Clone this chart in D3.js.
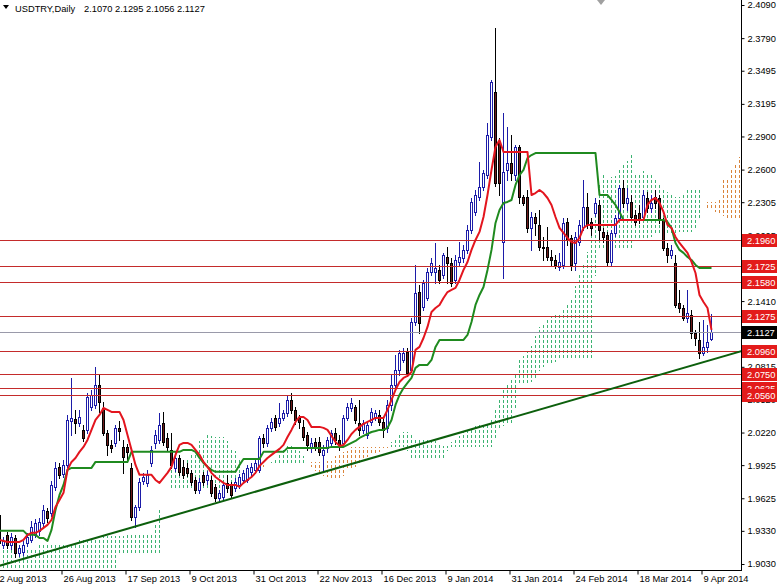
<!DOCTYPE html>
<html><head><meta charset="utf-8">
<script src="https://cdn.jsdelivr.net/npm/d3@7"></script>
<style>body{margin:0;background:#fff;}svg{display:block;}text{font-family:"Liberation Sans",Arial,sans-serif;}</style>
</head><body><svg id="c" width="777" height="586"></svg>
<script>
const symbolName = "USDTRY,Daily";
const lastQuote = ["2.1070","2.1295","2.1056","2.1127"];

const opens = [1.9475,1.9203,1.9294,1.9203,1.9266,1.9131,1.9140,1.9221,1.9248,1.9294,
1.9330,1.9402,1.9511,1.9493,1.9728,1.9909,1.9846,1.9927,2.0325,2.0343,
2.0307,2.0244,2.0244,2.0452,2.0470,2.0651,2.0443,2.0216,2.0108,2.0126,
2.0262,2.0090,2.0090,1.9900,1.9457,1.9547,1.9782,1.9764,1.9945,2.0126,
2.0153,2.0307,2.0171,2.0063,1.9900,1.9990,1.9909,1.9900,1.9855,1.9791,
1.9701,1.9837,1.9791,1.9791,1.9728,1.9628,1.9637,1.9764,1.9746,1.9719,
1.9746,1.9791,1.9791,1.9864,1.9882,1.9882,2.0171,2.0126,2.0262,2.0352,
2.0307,2.0352,2.0397,2.0515,2.0425,2.0352,2.0271,2.0198,2.0090,2.0135,
2.0135,2.0018,2.0081,2.0126,2.0216,2.0153,2.0126,2.0352,2.0443,2.0452,
2.0307,2.0244,2.0198,2.0316,2.0352,2.0379,2.0316,2.0262,2.0470,2.0651,
2.0787,2.0877,2.0949,2.0787,2.1221,2.1492,2.1357,2.1438,2.1673,2.1673,
2.1692,2.1646,2.1809,2.1755,2.1601,2.1764,2.1800,2.1873,2.2054,2.2216,
2.2352,2.2443,2.2551,2.2895,2.3303,2.2850,2.1945,2.2597,2.2660,2.2551,
2.2805,2.2352,2.2352,2.2072,2.2171,2.2099,2.1900,2.1900,2.1809,2.1782,
2.1719,2.1737,2.2126,2.1981,2.1755,2.1945,2.2081,2.2262,2.2126,2.2207,
2.2280,2.2036,2.2008,2.1764,2.2027,2.2162,2.2433,2.2298,2.2307,2.2189,
2.2207,2.2171,2.2343,2.2253,2.2352,2.2343,2.2144,2.1891,2.1827,2.1755,
2.1393,2.1348,2.1257,2.1284,2.1122,2.1058,2.0940,2.0995,2.1070];
const highs = [1.9502,1.9276,1.9321,1.9312,1.9294,1.9203,1.9239,1.9312,1.9420,1.9438,
1.9447,1.9565,1.9538,1.9782,1.9954,1.9945,1.9972,2.0379,2.0714,2.0425,
2.0425,2.0289,2.0579,2.0606,2.0814,2.0741,2.0497,2.0244,2.0153,2.0289,
2.0325,2.0153,2.0117,1.9945,1.9565,1.9809,1.9855,1.9882,2.0099,2.0244,
2.0397,2.0407,2.0216,2.0216,2.0045,2.0018,1.9972,1.9945,1.9882,1.9818,
1.9809,1.9864,1.9873,1.9828,1.9755,1.9701,1.9764,1.9837,1.9773,1.9809,
1.9846,1.9882,1.9927,1.9945,1.9972,2.0189,2.0207,2.0289,2.0352,2.0379,
2.0488,2.0425,2.0560,2.0579,2.0452,2.0379,2.0334,2.0225,2.0171,2.0171,
2.0180,2.0108,2.0180,2.0244,2.0262,2.0198,2.0379,2.0488,2.0533,2.0470,
2.0515,2.0334,2.0316,2.0443,2.0425,2.0425,2.0352,2.0515,2.0741,2.0922,
2.0968,2.0986,2.0986,2.1257,2.1737,2.1555,2.1601,2.1709,2.1800,2.1936,
2.1737,2.1845,2.1900,2.1800,2.1827,2.1945,2.1918,2.2099,2.2343,2.2416,
2.2669,2.2597,2.3022,2.3411,2.3882,2.2886,2.3113,2.2986,2.2913,2.2823,
2.2823,2.2370,2.2416,2.2217,2.2208,2.2235,2.1990,2.2081,2.1873,2.1827,
2.1845,2.2162,2.2162,2.2008,2.2036,2.2144,2.2506,2.2388,2.2162,2.2343,
2.2325,2.2072,2.2036,2.2054,2.2189,2.2461,2.2506,2.2433,2.2370,2.2235,
2.2280,2.2416,2.2397,2.2370,2.2416,2.2370,2.2162,2.1936,2.1918,2.1827,
2.1511,2.1375,2.1511,2.1330,2.1149,2.1221,2.1239,2.1194,2.1295];
const lows = [1.9194,1.9176,1.9176,1.9167,1.9094,1.9104,1.9113,1.9194,1.9230,1.9276,
1.9294,1.9375,1.9411,1.9466,1.9701,1.9809,1.9818,1.9909,2.0198,2.0216,
2.0279,2.0144,2.0216,2.0425,2.0443,2.0407,2.0198,2.0018,2.0045,2.0099,
2.0153,1.9855,1.9954,1.9429,1.9366,1.9520,1.9755,1.9737,1.9918,2.0081,
2.0126,2.0108,2.0063,1.9900,1.9873,1.9837,1.9809,1.9828,1.9746,1.9674,
1.9674,1.9746,1.9755,1.9646,1.9601,1.9592,1.9610,1.9683,1.9628,1.9692,
1.9719,1.9764,1.9773,1.9837,1.9855,1.9864,2.0090,2.0099,2.0235,2.0244,
2.0279,2.0334,2.0370,2.0397,2.0298,2.0262,2.0153,2.0063,2.0045,2.0063,
2.0018,1.9864,2.0045,2.0099,2.0117,2.0063,2.0099,2.0334,2.0416,2.0307,
2.0198,2.0216,2.0171,2.0289,2.0334,2.0289,2.0180,2.0226,2.0425,2.0623,
2.0741,2.0859,2.0732,2.0768,2.1194,2.1122,2.1330,2.1420,2.1646,2.1574,
2.1574,2.1619,2.1574,2.1546,2.1574,2.1737,2.1764,2.1845,2.2027,2.2189,
2.2325,2.2416,2.2524,2.2868,2.2452,2.2370,2.1619,2.2506,2.2506,2.2506,
2.2298,2.2280,2.2036,2.1873,2.2009,2.1873,2.1782,2.1782,2.1737,2.1709,
2.1692,2.1709,2.1918,2.1692,2.1692,2.1918,2.2054,2.2072,2.2009,2.2180,
2.1963,2.1945,2.1737,2.1737,2.1999,2.2144,2.2262,2.2235,2.2144,2.2099,
2.2117,2.2144,2.2216,2.2216,2.2253,2.2117,2.1873,2.1764,2.1800,2.1357,
2.1312,2.1239,2.1221,2.1076,2.1013,2.0895,2.0922,2.0949,2.1056];
const closes = [1.9221,1.9239,1.9203,1.9276,1.9131,1.9176,1.9203,1.9276,1.9366,1.9402,
1.9411,1.9520,1.9447,1.9746,1.9900,1.9837,1.9927,2.0334,2.0352,2.0307,
2.0361,2.0171,2.0542,2.0560,2.0651,2.0497,2.0216,2.0108,2.0081,2.0262,
2.0235,1.9999,2.0045,1.9457,1.9547,1.9773,1.9818,1.9837,2.0063,2.0198,
2.0289,2.0135,2.0090,1.9927,1.9990,1.9864,1.9837,1.9855,1.9773,1.9701,
1.9773,1.9773,1.9837,1.9674,1.9628,1.9674,1.9746,1.9719,1.9655,1.9773,
1.9818,1.9855,1.9900,1.9909,1.9945,2.0171,2.0126,2.0262,2.0316,2.0271,
2.0352,2.0397,2.0515,2.0425,2.0334,2.0316,2.0180,2.0108,2.0126,2.0090,
2.0045,2.0063,2.0153,2.0216,2.0153,2.0090,2.0352,2.0452,2.0488,2.0334,
2.0244,2.0307,2.0289,2.0406,2.0397,2.0316,2.0244,2.0470,2.0651,2.0787,
2.0940,2.0940,2.0759,2.1221,2.1483,2.1212,2.1574,2.1673,2.1755,2.1709,
2.1601,2.1827,2.1755,2.1574,2.1782,2.1809,2.1873,2.2054,2.2307,2.2370,
2.2443,2.2569,2.2913,2.3393,2.2479,2.2479,2.2578,2.2660,2.2569,2.2805,
2.2352,2.2298,2.2072,2.2171,2.2117,2.1900,2.1891,2.1809,2.1782,2.1737,
2.1764,2.2117,2.1963,2.1737,2.1990,2.2099,2.2262,2.2099,2.2072,2.2298,
2.2054,2.1990,2.1764,2.2027,2.2162,2.2433,2.2298,2.2343,2.2171,2.2126,
2.2144,2.2370,2.2253,2.2298,2.2298,2.2144,2.1891,2.1827,2.1873,2.1375,
2.1348,2.1257,2.1302,2.1122,2.1076,2.0940,2.0995,2.1040,2.1127];

const tenkan = [1.9248,1.9239,1.9230,1.9230,1.9230,1.9230,1.9248,1.9294,1.9312,1.9312,
1.9330,1.9357,1.9384,1.9429,1.9547,1.9610,1.9674,1.9882,1.9954,1.9990,
2.0045,2.0090,2.0153,2.0244,2.0334,2.0379,2.0443,2.0425,2.0407,2.0407,
2.0407,2.0334,2.0198,2.0063,1.9927,1.9837,1.9837,1.9837,1.9837,1.9791,
1.9764,1.9809,1.9855,1.9909,2.0018,2.0108,2.0126,2.0126,2.0108,2.0063,
2.0018,1.9954,1.9909,1.9855,1.9818,1.9791,1.9764,1.9746,1.9746,1.9746,
1.9728,1.9764,1.9791,1.9818,1.9855,1.9918,1.9954,1.9990,2.0018,2.0045,
2.0072,2.0108,2.0180,2.0244,2.0316,2.0361,2.0361,2.0334,2.0271,2.0271,
2.0271,2.0262,2.0244,2.0189,2.0135,2.0099,2.0108,2.0153,2.0207,2.0244,
2.0271,2.0298,2.0316,2.0334,2.0352,2.0352,2.0352,2.0425,2.0515,2.0606,
2.0678,2.0714,2.0732,2.0768,2.0968,2.0995,2.1076,2.1176,2.1311,2.1347,
2.1375,2.1438,2.1492,2.1511,2.1529,2.1601,2.1692,2.1764,2.1873,2.1963,
2.2036,2.2171,2.2370,2.2597,2.2805,2.2868,2.2759,2.2759,2.2759,2.2759,
2.2759,2.2759,2.2759,2.2370,2.2388,2.2416,2.2388,2.2343,2.2280,2.2171,
2.2072,2.2027,2.1981,2.1945,2.1936,2.1981,2.2072,2.2099,2.2099,2.2099,
2.2099,2.2099,2.2099,2.2099,2.2099,2.2144,2.2144,2.2144,2.2144,2.2144,
2.2144,2.2144,2.2280,2.2325,2.2343,2.2298,2.2217,2.2099,2.2072,2.1990,
2.1936,2.1891,2.1846,2.1764,2.1664,2.1465,2.1402,2.1347,2.1149];
const kijun = [1.9330,1.9330,1.9330,1.9330,1.9330,1.9330,1.9330,1.9294,1.9294,1.9294,
1.9266,1.9266,1.9239,1.9339,1.9520,1.9655,1.9746,1.9882,1.9900,1.9900,
1.9900,1.9900,1.9900,1.9900,1.9954,1.9954,1.9954,1.9954,1.9954,1.9954,
1.9954,1.9954,1.9954,2.0045,2.0045,2.0045,2.0045,2.0045,2.0045,2.0045,
2.0045,2.0045,2.0045,2.0045,2.0045,2.0045,2.0063,2.0063,2.0063,2.0045,
1.9990,1.9945,1.9909,1.9882,1.9864,1.9864,1.9864,1.9864,1.9864,1.9864,
1.9927,1.9981,1.9981,1.9981,1.9981,1.9981,2.0045,2.0045,2.0045,2.0045,
2.0045,2.0045,2.0081,2.0081,2.0081,2.0081,2.0081,2.0081,2.0081,2.0081,
2.0081,2.0081,2.0081,2.0090,2.0090,2.0090,2.0090,2.0108,2.0126,2.0144,
2.0171,2.0189,2.0207,2.0225,2.0234,2.0244,2.0244,2.0262,2.0334,2.0470,
2.0560,2.0623,2.0669,2.0714,2.0805,2.0832,2.0832,2.0832,2.0877,2.0995,
2.1058,2.1058,2.1058,2.1058,2.1058,2.1058,2.1058,2.1103,2.1221,2.1375,
2.1465,2.1537,2.1692,2.1873,2.2117,2.2235,2.2298,2.2307,2.2325,2.2461,
2.2551,2.2597,2.2705,2.2732,2.2750,2.2750,2.2750,2.2750,2.2750,2.2750,
2.2750,2.2750,2.2750,2.2750,2.2750,2.2750,2.2750,2.2750,2.2750,2.2750,
2.2370,2.2370,2.2370,2.2325,2.2280,2.2217,2.2144,2.2144,2.2144,2.2144,
2.2144,2.2144,2.2144,2.2144,2.2144,2.2144,2.2144,2.2126,2.2072,2.1936,
2.1873,2.1846,2.1809,2.1782,2.1737,2.1709,2.1709,2.1709,2.1709];
const spanA = [1.9176,1.9176,1.9176,1.9176,1.9176,1.9176,1.9176,1.9176,1.9176,1.9176,
1.9212,1.9212,1.9212,1.9212,1.9212,1.9212,1.9212,1.9212,1.9212,1.9212,
1.9248,1.9248,1.9248,1.9248,1.9248,1.9248,1.9288,1.9284,1.9279,1.9279,
1.9279,1.9279,1.9288,1.9293,1.9302,1.9302,1.9297,1.9311,1.9311,1.9384,
1.9533,1.9633,1.9710,1.9882,1.9927,1.9945,1.9972,1.9994,2.0026,2.0071,
2.0143,2.0166,2.0198,2.0189,2.0180,2.0180,2.0180,2.0143,2.0076,2.0054,
1.9986,1.9940,1.9940,1.9940,1.9940,1.9918,1.9904,1.9927,1.9949,1.9976,
2.0030,2.0076,2.0094,2.0094,2.0085,2.0054,2.0004,1.9949,1.9909,1.9868,
1.9841,1.9827,1.9814,1.9805,1.9805,1.9805,1.9827,1.9882,1.9895,1.9909,
1.9927,1.9958,1.9999,2.0017,2.0030,2.0045,2.0058,2.0076,2.0130,2.0162,
2.0198,2.0221,2.0221,2.0207,2.0175,2.0175,2.0175,2.0171,2.0162,2.0139,
2.0112,2.0094,2.0098,2.0130,2.0166,2.0193,2.0221,2.0244,2.0262,2.0280,
2.0293,2.0298,2.0298,2.0343,2.0425,2.0537,2.0619,2.0668,2.0700,2.0741,
2.0886,2.0913,2.0954,2.1003,2.1094,2.1171,2.1216,2.1248,2.1275,2.1284,
2.1293,2.1330,2.1375,2.1433,2.1546,2.1668,2.1750,2.1854,2.2031,2.2235,
2.2461,2.2551,2.2528,2.2533,2.2542,2.2610,2.2655,2.2678,2.2732,2.2551,
2.2569,2.2583,2.2569,2.2547,2.2515,2.2465,2.2416,2.2393,2.2370,2.2352,
2.2348,2.2370,2.2416,2.2429,2.2429,2.2429,2.2235,2.2235,2.2235,2.2212,
2.2189,2.2180,2.2144,2.2144,2.2144,2.2144];
const spanB = [1.8795,1.8795,1.8795,1.8795,1.8795,1.8795,1.8795,1.8795,1.8795,1.8795,
1.8795,1.8795,1.8795,1.8795,1.8795,1.8795,1.8795,1.8795,1.8795,1.8795,
1.8795,1.8795,1.8795,1.8795,1.8795,1.8795,1.8795,1.8795,1.8795,1.8795,
1.9113,1.9113,1.9113,1.9113,1.9113,1.9113,1.9113,1.9113,1.9113,1.9113,
1.9113,1.9637,1.9701,1.9701,1.9701,1.9701,1.9701,1.9701,1.9701,1.9701,
1.9701,1.9701,1.9701,1.9701,1.9701,1.9701,1.9701,1.9701,1.9701,1.9701,
1.9701,1.9927,1.9927,1.9927,1.9927,1.9927,1.9927,1.9927,1.9927,1.9927,
1.9927,1.9927,1.9927,1.9927,1.9927,1.9927,1.9927,1.9954,1.9954,1.9954,
1.9954,1.9954,1.9958,1.9963,2.0004,2.0022,2.0045,2.0054,2.0090,2.0090,
2.0090,2.0090,2.0090,2.0090,2.0090,2.0090,2.0090,2.0090,2.0090,2.0090,
2.0090,2.0090,2.0054,1.9972,1.9972,1.9972,1.9972,1.9972,1.9972,1.9972,
1.9972,1.9972,2.0049,2.0085,2.0085,2.0085,2.0085,2.0085,2.0085,2.0085,
2.0085,2.0085,2.0085,2.0085,2.0166,2.0257,2.0280,2.0289,2.0289,2.0425,
2.0664,2.0664,2.0664,2.0673,2.0714,2.0781,2.0813,2.0827,2.0849,2.0854,
2.0886,2.0895,2.0899,2.0899,2.0899,2.0899,2.0899,2.0899,2.0899,2.1637,
2.1873,2.1873,2.1873,2.1873,2.1873,2.1873,2.1873,2.1873,2.1873,2.1963,
2.1972,2.1972,2.1972,2.1990,2.2026,2.2026,2.2026,2.2026,2.2026,2.2026,
2.2031,2.2031,2.2031,2.2031,2.2054,2.2153,2.2253,2.2307,2.2307,2.2307,
2.2325,2.2502,2.2502,2.2606,2.2651,2.2714];

const levelPrices = [2.1960,2.1725,2.1580,2.1275,2.0960,2.0750,2.0625,2.0560];
const bidPrice = 2.1127;
const priceTicks = [2.4090,2.3790,2.3495,2.3195,2.2900,2.2600,2.2305,2.2005,2.1710,2.1410,2.1115,2.0815,2.0520,2.0220,1.9925,1.9625,1.9330,1.9030];
const dateTickBars = [0,16,32,48,64,80,96,112,128,144,160,176];
const dateTickLabels = ["2 Aug 2013","26 Aug 2013","17 Sep 2013","9 Oct 2013","31 Oct 2013","22 Nov 2013","16 Dec 2013","9 Jan 2014","31 Jan 2014","24 Feb 2014","18 Mar 2014","9 Apr 2014"];
const trendBars = [0,185];
const trendPrices = [1.9013,2.0950];

// ---------- drawing ----------
const W = 777, H = 586, plotR = 741, plotB = 570;
const FS = "9.3px";
const fmt = d3.format(".4f");
const svg = d3.select("#c");
svg.append("rect").attr("width",W).attr("height",H).attr("fill","#fff");
const y = d3.scaleLinear().domain([1.9030,2.4090]).range([564,5]);
const x = d3.scaleLinear().domain([0,178]).range([-1,711]);
const px = i => Math.round(x(i));
const ry = v => Math.round(y(v));

svg.append("defs").append("clipPath").attr("id","plot")
  .append("rect").attr("x",0).attr("y",0).attr("width",plotR).attr("height",plotB);
const g = svg.append("g").attr("clip-path","url(#plot)");

// Ichimoku cloud: dotted columns built from spanA / spanB
const DASH = 3, STEP = 5;
const cloudDashes = d3.range(spanA.length).flatMap(i => {
  const top = Math.min(ry(spanA[i]), ry(spanB[i]));
  const bot = Math.max(ry(spanA[i]), ry(spanB[i]));
  const up = spanA[i] >= spanB[i];
  return d3.range(top - (top % STEP), bot, STEP).map(s => {
    const a = Math.max(s, top), b = Math.min(s + DASH, bot);
    return {i, a, b, up};
  }).filter(d => d.b > d.a);
});
g.append("g").attr("shape-rendering","crispEdges").selectAll("rect").data(cloudDashes).join("rect")
  .attr("x", d => px(d.i)).attr("width", 1)
  .attr("y", d => d.a).attr("height", d => d.b - d.a)
  .attr("fill", d => d.up ? "#3cb371" : "#d9843a");

// candles
const bars = d3.range(opens.length);
const bull = i => closes[i] >= opens[i];
const cg = g.append("g");
cg.selectAll("line").data(bars).join("line")
  .attr("x1", i => px(i)+0.5).attr("x2", i => px(i)+0.5)
  .attr("y1", i => ry(highs[i])).attr("y2", i => ry(lows[i])+1)
  .attr("stroke", i => bull(i) ? "#1c1ca8" : "#000");
cg.selectAll("rect").data(bars).join("rect")
  .attr("x", i => px(i)-0.5).attr("width", 2)
  .attr("y", i => ry(Math.max(opens[i],closes[i]))+0.5)
  .attr("height", i => Math.max(0.01, ry(Math.min(opens[i],closes[i])) - ry(Math.max(opens[i],closes[i]))))
  .attr("fill", i => bull(i) ? "#fff" : "#6e1a1a")
  .attr("stroke", i => bull(i) ? "#1c1ca8" : "#000")
  .attr("stroke-width",1);

// horizontal levels
g.append("g").selectAll("line").data(levelPrices).join("line")
  .attr("x1",0).attr("x2",plotR).attr("y1",d=>ry(d)+0.5).attr("y2",d=>ry(d)+0.5)
  .attr("stroke","#c42b2b").attr("stroke-width",1);
g.append("line").attr("x1",0).attr("x2",plotR).attr("y1",ry(bidPrice)+0.5).attr("y2",ry(bidPrice)+0.5)
  .attr("stroke","#9a9aaa").attr("stroke-width",1);

// Tenkan / Kijun
const line = arr => d3.line().x((d,i)=>x(i)+0.5).y(d=>y(d))(arr);
g.append("path").attr("d", line(kijun)).attr("fill","none").attr("stroke","#1f8a1f").attr("stroke-width",2).attr("stroke-linejoin","round");
g.append("path").attr("d", line(tenkan)).attr("fill","none").attr("stroke","#e3151e").attr("stroke-width",2).attr("stroke-linejoin","round");

// trend line (extended across the chart)
const slope = (trendPrices[1]-trendPrices[0])/(trendBars[1]-trendBars[0]);
const tAt = b => trendPrices[0] + slope*(b-trendBars[0]);
g.append("line").attr("x1",x(-2)).attr("y1",y(tAt(-2))).attr("x2",x(190)).attr("y2",y(tAt(190)))
  .attr("stroke","#0c5f0c").attr("stroke-width",2);

// price axis (labels hidden behind the level boxes are left out)
const covered = p => [...levelPrices, bidPrice].some(l => Math.abs(y(l) - y(p)) < 3.5);
const yAxis = d3.axisRight(y).tickValues(priceTicks).tickFormat(d => covered(d) ? "" : fmt(d)).tickSize(3).tickSizeOuter(0).tickPadding(3);
const ya = svg.append("g").attr("transform",`translate(${plotR+0.5},0)`).call(yAxis);
ya.select(".domain").remove();
ya.selectAll("text").attr("font-size",FS).attr("font-family","Liberation Sans, Arial, sans-serif").attr("fill","#000");
ya.selectAll("line").attr("stroke","#000");

const xAxis = d3.axisBottom(x).tickValues(dateTickBars).tickFormat((d,i)=>dateTickLabels[i]).tickSize(4).tickSizeOuter(0);
const xa = svg.append("g").attr("transform",`translate(0,${plotB+0.5})`).call(xAxis);
xa.select(".domain").remove();
xa.selectAll(".tick line").attr("transform","translate(-1.5,0)").attr("stroke","#000");
xa.selectAll(".tick text").attr("text-anchor","start").attr("x",0).attr("y",5).attr("dy","0.71em")
  .attr("font-size",FS).attr("font-family","Liberation Sans, Arial, sans-serif").attr("fill","#000");

svg.append("line").attr("x1",plotR+0.5).attr("x2",plotR+0.5).attr("y1",0).attr("y2",plotB+1).attr("stroke","#000");
svg.append("line").attr("x1",0).attr("x2",plotR+1).attr("y1",plotB+0.5).attr("y2",plotB+0.5).attr("stroke","#000");

// level labels
const lab = svg.append("g");
levelPrices.forEach(p => {
  lab.append("rect").attr("x",plotR+1).attr("y",ry(p)-6).attr("width",W-plotR-1).attr("height",13).attr("fill","#e31b1b");
  lab.append("text").attr("x",plotR+6).attr("y",ry(p)+0.5).attr("dy","0.35em").attr("font-size",FS).attr("fill","#fff").text(fmt(p));
});
lab.append("rect").attr("x",plotR+1).attr("y",ry(bidPrice)-6).attr("width",W-plotR-1).attr("height",13).attr("fill","#000");
lab.append("text").attr("x",plotR+6).attr("y",ry(bidPrice)+0.5).attr("dy","0.35em").attr("font-size",FS).attr("fill","#fff").text(fmt(bidPrice));

// title
svg.append("path").attr("d","M3,5 L9,5 L6,9 Z").attr("fill","#000");
svg.append("text").attr("x",15).attr("y",12).attr("font-size",FS).attr("fill","#000").text(symbolName);
svg.append("text").attr("x",84).attr("y",12).attr("font-size",FS).attr("fill","#000").text(lastQuote.join(" "));
// chart shift marker
svg.append("path").attr("d","M597,0 L605,0 L601,5 Z").attr("fill","#a0a0a0");
</script></body></html>
